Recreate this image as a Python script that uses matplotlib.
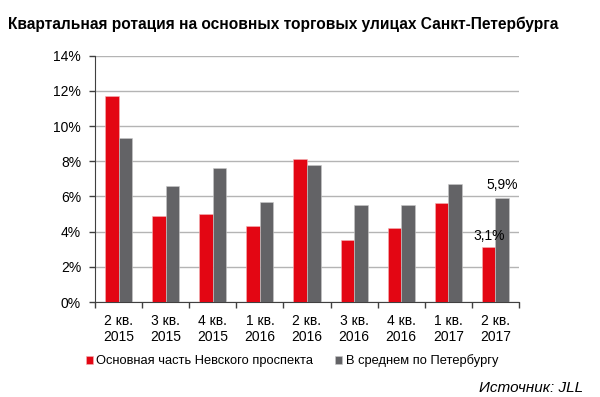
import numpy as np
import matplotlib.pyplot as plt
from matplotlib.ticker import FixedLocator, FuncFormatter

plt.rcParams['font.family'] = ['Liberation Sans', 'DejaVu Sans']

quarters = ["2 кв.\n2015", "3 кв.\n2015", "4 кв.\n2015", "1 кв.\n2016", "2 кв.\n2016",
            "3 кв.\n2016", "4 кв.\n2016", "1 кв.\n2017", "2 кв.\n2017"]
nevsky = [11.7, 4.9, 5.0, 4.3, 8.1, 3.5, 4.2, 5.6, 3.1]
spb_avg = [9.3, 6.6, 7.6, 5.7, 7.8, 5.5, 5.5, 6.7, 5.9]
series_names = ["Основная часть Невского проспекта", "В среднем по Петербургу"]

red = "#e30613"
grey = "#636366"

W, H = 600, 397
fig = plt.figure(figsize=(W / 100, H / 100), dpi=100)
ax = fig.add_axes([95 / W, 1 - 302 / H, (519 - 95) / W, (302 - 55.7) / H])

x = np.arange(len(quarters))
w = 0.287
ax.bar(x - w / 2, nevsky, w, color=red, edgecolor="#f3b3b6", linewidth=0.4, zorder=3,
       label=series_names[0])
ax.bar(x + w / 2, spb_avg, w, color=grey, edgecolor="#c9c9c9", linewidth=0.4, zorder=3,
       label=series_names[1])

ax.set_xlim(-0.5, len(quarters) - 0.5)
ax.set_ylim(0, 14)
ax.set_yticks(np.arange(0, 15, 2))
ax.yaxis.set_major_formatter(FuncFormatter(lambda v, p: f"{v:.0f}%"))
ax.grid(axis="y", color="#b4b4b4", linewidth=1, zorder=0)

ax.set_xticks(x)
ax.set_xticklabels(quarters, fontsize=10, linespacing=1.2)
ax.tick_params(axis="x", length=0, pad=8.5)
ax.xaxis.set_minor_locator(FixedLocator(np.arange(-0.5, len(quarters), 1)))
ax.tick_params(axis="x", which="minor", length=4, width=1, color="#404040", direction="out")
ax.tick_params(axis="y", length=4, width=1, color="#404040", labelsize=10, pad=6)

for s in ["top", "right"]:
    ax.spines[s].set_visible(False)
ax.spines["left"].set_color("#404040")
ax.spines["bottom"].set_color("#404040")

ax.annotate("3,1%", (x[-1] - w / 2, nevsky[-1]), xytext=(0, 8.5), textcoords="offset points",
            ha="center", va="center", fontsize=10)
ax.annotate("5,9%", (x[-1] + w / 2, spb_avg[-1]), xytext=(0, 9.5), textcoords="offset points",
            ha="center", va="center", fontsize=10)

fig.text(8 / W, 1 - 29 / H, "Квартальная ротация на основных торговых улицах Санкт-Петербурга",
         fontsize=11.2, fontweight="bold", va="baseline", ha="left")

ax.legend(loc="center left", bbox_to_anchor=(86 / W, 1 - 361 / H), bbox_transform=fig.transFigure,
          ncol=2, frameon=False, fontsize=9.3, handlelength=0.55, handleheight=0.55,
          handletextpad=0.25, columnspacing=1.7, borderpad=0, borderaxespad=0)

fig.text(583 / W, 1 - 388 / H, "Источник: JLL", fontsize=11, style="italic",
         ha="right", va="center")

fig.savefig("out.png", dpi=100)
